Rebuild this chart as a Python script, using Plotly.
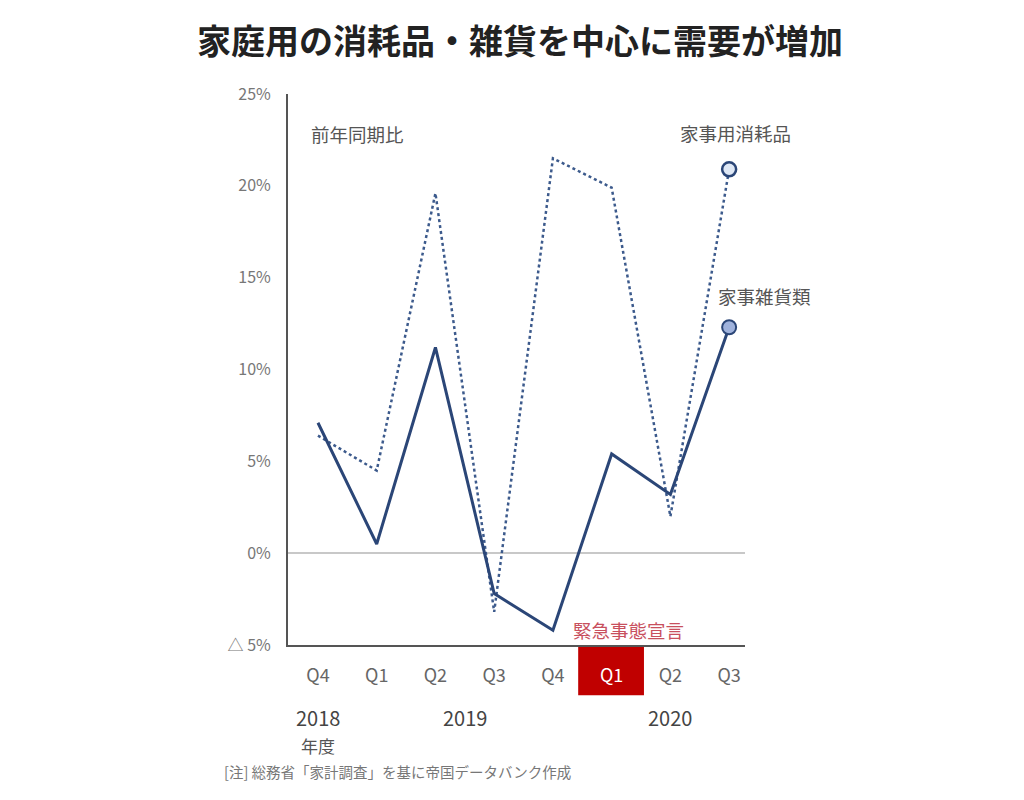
import plotly.graph_objects as go

# ---- data ----
quarters = ["Q4", "Q1", "Q2", "Q3", "Q4", "Q1", "Q2", "Q3"]
x_idx = list(range(len(quarters)))
zakka = [7.1, 0.5, 11.2, -2.2, -4.2, 5.4, 3.2, 12.3]          # 家事雑貨類 (solid)
shomohin = [6.4, 4.5, 19.6, -3.2, 21.5, 19.9, 2.0, 20.9]      # 家事用消耗品 (dotted)
y_ticks = [-5, 0, 5, 10, 15, 20, 25]
y_ticktext = ["△ 5%", "0%", "5%", "10%", "15%", "20%", "25%"]
years = [("2018", 0), ("2019", 2.5), ("2020", 6.0)]
highlight_idx = 5  # Q1 2020

FONT = "Noto Sans CJK JP"
NAVY = "#2b4677"

ticktext = [("<span style='color:white'>%s</span>" % q) if i == highlight_idx else q
            for i, q in enumerate(quarters)]

fig = go.Figure()
fig.add_trace(go.Scatter(x=x_idx, y=shomohin, mode="lines",
                         line=dict(color="#3c5a8c", width=2.5, dash="dot"),
                         showlegend=False, hoverinfo="skip"))
fig.add_trace(go.Scatter(x=x_idx, y=zakka, mode="lines",
                         line=dict(color=NAVY, width=3),
                         showlegend=False, hoverinfo="skip"))
fig.add_trace(go.Scatter(x=[x_idx[-1]], y=[shomohin[-1]], mode="markers",
                         marker=dict(size=14, color="#dfe8f5", line=dict(color=NAVY, width=2.5)),
                         showlegend=False, cliponaxis=False))
fig.add_trace(go.Scatter(x=[x_idx[-1]], y=[zakka[-1]], mode="markers",
                         marker=dict(size=14, color="#9fb2dc", line=dict(color=NAVY, width=2)),
                         showlegend=False, cliponaxis=False))

# red highlight box under Q1
fig.add_shape(type="rect", xref="x", yref="paper",
              x0=highlight_idx - 0.57, x1=highlight_idx + 0.55, y0=0, y1=-0.091,
              fillcolor="#c00000", line=dict(width=0), layer="below")

def ann(text, x, y, xref, yref, size, color, **kw):
    d = dict(text=text, x=x, y=y, xref=xref, yref=yref, showarrow=False,
             xanchor="center", yanchor="middle",
             font=dict(size=size, color=color, family=FONT))
    d.update(kw)
    return d

annotations = [
    ann("前年同期比", 0.68, 22.8, "x", "y", 18.5, "#555555"),
    ann("家事用消耗品", 7.1, 22.9, "x", "y", 18.5, "#555555"),
    ann("家事雑貨類", 1.0416, 14.0, "paper", "y", 18.5, "#555555"),
    ann("緊急事態宣言", 5.28, -4.2, "x", "y", 18.5, "#c8505e"),
    ann("年度", 0, -0.1815, "x", "paper", 17, "#555555"),
    ann("[注] 総務省「家計調査」を基に帝国データバンク作成", -0.144, -0.2288,
        "paper", "paper", 14.5, "#777777", xanchor="left"),
]
for label, xv in years:
    annotations.append(ann(label, xv, -0.1307, "x", "paper", 20, "#444444"))

fig.update_layout(
    width=1024, height=800,
    margin=dict(l=280, r=287, t=86, b=163, autoexpand=False),
    paper_bgcolor="white", plot_bgcolor="white",
    title=dict(text="<b>家庭用の消耗品・雑貨を中心に需要が増加</b>", x=0.5, xref="container",
               y=1 - 34 / 800, yref="container", xanchor="center", yanchor="middle",
               font=dict(size=34, color="#222222", family=FONT)),
    annotations=annotations,
    font=dict(family=FONT),
)
fig.update_xaxes(range=[-0.51, 7.27], tickvals=x_idx, ticktext=ticktext,
                 showgrid=False, zeroline=False, showline=True, linecolor="#555555",
                 linewidth=2, ticks="", ticklabelstandoff=13,
                 tickfont=dict(size=18, color="#666666", family=FONT), fixedrange=True)
fig.update_yaxes(range=[-5, 25], tickvals=y_ticks, ticktext=y_ticktext,
                 showgrid=False, zeroline=True, zerolinecolor="#c8c8c8", zerolinewidth=1.5,
                 showline=True, linecolor="#555555", linewidth=2, ticks="",
                 ticklabelstandoff=12,
                 tickfont=dict(size=16, color="#777777", family=FONT), fixedrange=True)

fig.write_html("out.html")
